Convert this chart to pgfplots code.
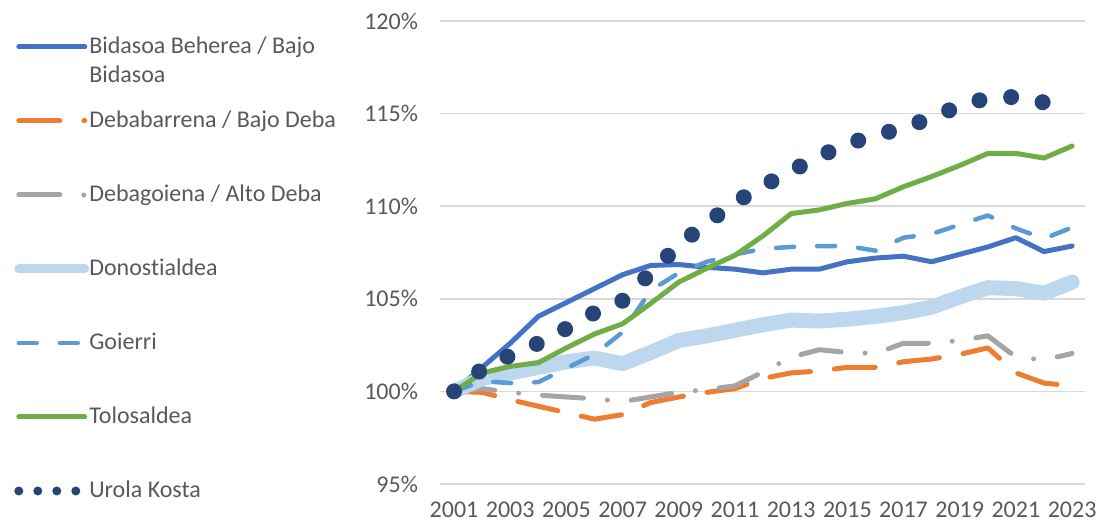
\documentclass[border=0pt]{standalone}
\usepackage{fontspec}
\setmainfont{Carlito}[Ligatures=NoCommon]
\usepackage{pgfplots}
\pgfplotsset{compat=1.18}
\definecolor{cBid}{HTML}{4472C4}
\definecolor{cDbb}{HTML}{ED7D31}
\definecolor{cDbg}{HTML}{A5A5A5}
\definecolor{cDon}{HTML}{BDD7EE}
\definecolor{cGoi}{HTML}{5B9BD5}
\definecolor{cTol}{HTML}{70AD47}
\definecolor{cUro}{HTML}{264478}
\definecolor{gridgray}{HTML}{D9D9D9}
\definecolor{tickgray}{HTML}{595959}
\begin{document}
\begin{tikzpicture}
\begin{axis}[
  scale only axis, width=322.5pt, height=231.5pt,
  xmin=2000.5, xmax=2023.46, ymin=95, ymax=120,
  axis line style={draw=none}, tick style={draw=none}, major tick length=0pt,
  ymajorgrids, grid style={color=gridgray, line width=0.75pt},
  xtick={2001,2003,...,2023}, ytick={95,100,...,120},
  yticklabel={\pgfmathprintnumber{\tick}\%},
  ticklabel style={font=\fontsize{12}{14.5}\selectfont, text=tickgray},
  /pgf/number format/assume math mode=true,
  /pgf/number format/1000 sep={},
  yticklabel style={xshift=-7.5pt},
  xticklabel style={yshift=-5.5pt},
  legend cell align=left,
  legend style={at={(-0.66,0.959)}, anchor=north west, draw=none, fill=none,
    inner sep=0pt, outer sep=0pt, row sep=30pt, column sep=0pt,
    font=\fontsize{12}{14.5}\selectfont, text=tickgray,
    nodes={inner sep=0pt, text height=7pt, text depth=0pt, anchor=west}},
  legend image code/.code={\draw[#1] (0pt,0pt) -- (33pt,0pt); \path[draw=none,fill=none] (0pt,-3pt) rectangle (33pt,3pt);},
  line join=round,
]
\addlegendimage{cBid, line width=2.5pt, line cap=round}
\addlegendentry{\smash{\begin{tabular}[t]{@{}l@{}}Bidasoa Beherea / Bajo\\Bidasoa\end{tabular}}}
\addlegendimage{cDbb, line width=2.5pt, line cap=round, dash pattern=on 20.5pt off 12pt}
\addlegendentry{Debabarrena / Bajo Deba}
\addlegendimage{cDbg, line width=2.5pt, line cap=round, dash pattern=on 20.5pt off 12pt on 0pt off 12pt}
\addlegendentry{Debagoiena / Alto Deba}
\addlegendimage{cDon, line width=4.5pt, line cap=round}
\addlegendentry{Donostialdea}
\addlegendimage{cGoi, line width=2.25pt, line cap=round, dash pattern=on 9pt off 11.5pt}
\addlegendentry{Goierri}
\addlegendimage{cTol, line width=2.5pt, line cap=round}
\addlegendentry{Tolosaldea}
\addlegendimage{cUro, line width=4.5pt, line cap=round, dash pattern=on 0pt off 9.5pt}
\addlegendentry{Urola Kosta}

\addplot[forget plot, cBid, line width=2.5pt, line cap=round] coordinates {
(2001,100)(2002,101.3)(2003,102.6)(2004,104.05)(2005,104.8)(2006,105.55)(2007,106.3)(2008,106.8)(2009,106.85)(2010,106.7)(2011,106.6)(2012,106.4)(2013,106.6)(2014,106.6)(2015,107.0)(2016,107.2)(2017,107.3)(2018,107.0)(2019,107.4)(2020,107.8)(2021,108.3)(2022,107.55)(2023,107.85)};
\addplot[forget plot, cDbb, line width=2.5pt, line cap=round, dash pattern=on 20.5pt off 12pt] coordinates {
(2001,100)(2002,99.95)(2003,99.55)(2004,99.2)(2005,98.85)(2006,98.5)(2007,98.75)(2008,99.4)(2009,99.7)(2010,99.95)(2011,100.15)(2012,100.7)(2013,101.0)(2014,101.1)(2015,101.3)(2016,101.3)(2017,101.6)(2018,101.75)(2019,102.0)(2020,102.35)(2021,101.0)(2022,100.45)(2023,100.3)};
\addplot[forget plot, cDbg, line width=2.5pt, line cap=round, dash pattern=on 20.5pt off 12pt on 0pt off 12pt] coordinates {
(2001,100)(2002,100.15)(2003,99.95)(2004,99.8)(2005,99.7)(2006,99.6)(2007,99.45)(2008,99.7)(2009,99.95)(2010,100.1)(2011,100.3)(2012,101.05)(2013,101.85)(2014,102.25)(2015,102.1)(2016,102.05)(2017,102.6)(2018,102.6)(2019,102.75)(2020,103.0)(2021,101.85)(2022,101.7)(2023,102.05)};
\addplot[forget plot, cDon, line width=7.5pt, line cap=round] coordinates {
(2001,100)(2002,100.7)(2003,101.0)(2004,101.3)(2005,101.6)(2006,101.8)(2007,101.5)(2008,102.1)(2009,102.75)(2010,103.0)(2011,103.3)(2012,103.6)(2013,103.85)(2014,103.8)(2015,103.9)(2016,104.05)(2017,104.25)(2018,104.55)(2019,105.1)(2020,105.6)(2021,105.55)(2022,105.3)(2023,105.9)};
\addplot[forget plot, cGoi, line width=2.25pt, line cap=round, dash pattern=on 9pt off 11.5pt] coordinates {
(2001,100)(2002,100.55)(2003,100.45)(2004,100.5)(2005,101.25)(2006,102.0)(2007,103.2)(2008,105.45)(2009,106.4)(2010,107.0)(2011,107.4)(2012,107.7)(2013,107.8)(2014,107.85)(2015,107.85)(2016,107.6)(2017,108.3)(2018,108.5)(2019,109.0)(2020,109.5)(2021,108.8)(2022,108.25)(2023,108.85)};
\addplot[forget plot, cTol, line width=2.5pt, line cap=round] coordinates {
(2001,100)(2002,101.0)(2003,101.35)(2004,101.55)(2005,102.35)(2006,103.1)(2007,103.65)(2008,104.75)(2009,105.9)(2010,106.65)(2011,107.35)(2012,108.4)(2013,109.6)(2014,109.8)(2015,110.15)(2016,110.4)(2017,111.05)(2018,111.6)(2019,112.2)(2020,112.85)(2021,112.85)(2022,112.6)(2023,113.25)};
\addplot[forget plot, cUro, line width=8pt, line cap=round, dash pattern=on 0pt off 16pt] coordinates {
(2001,100)(2002,101.2)(2003,101.95)(2004,102.6)(2005,103.4)(2006,104.25)(2007,104.9)(2008,106.4)(2009,107.9)(2010,109.1)(2011,110.2)(2012,111.1)(2013,111.9)(2014,112.7)(2015,113.35)(2016,113.85)(2017,114.2)(2018,114.8)(2019,115.4)(2020,115.85)(2021,115.9)(2022,115.6)};

\coordinate (bl) at (rel axis cs:-0.68217,-0.09071);
\coordinate (tr) at (rel axis cs:1.02016,1.04536);
\end{axis}
\pgfresetboundingbox
\path[use as bounding box] (bl) rectangle (tr);
\end{tikzpicture}
\end{document}
